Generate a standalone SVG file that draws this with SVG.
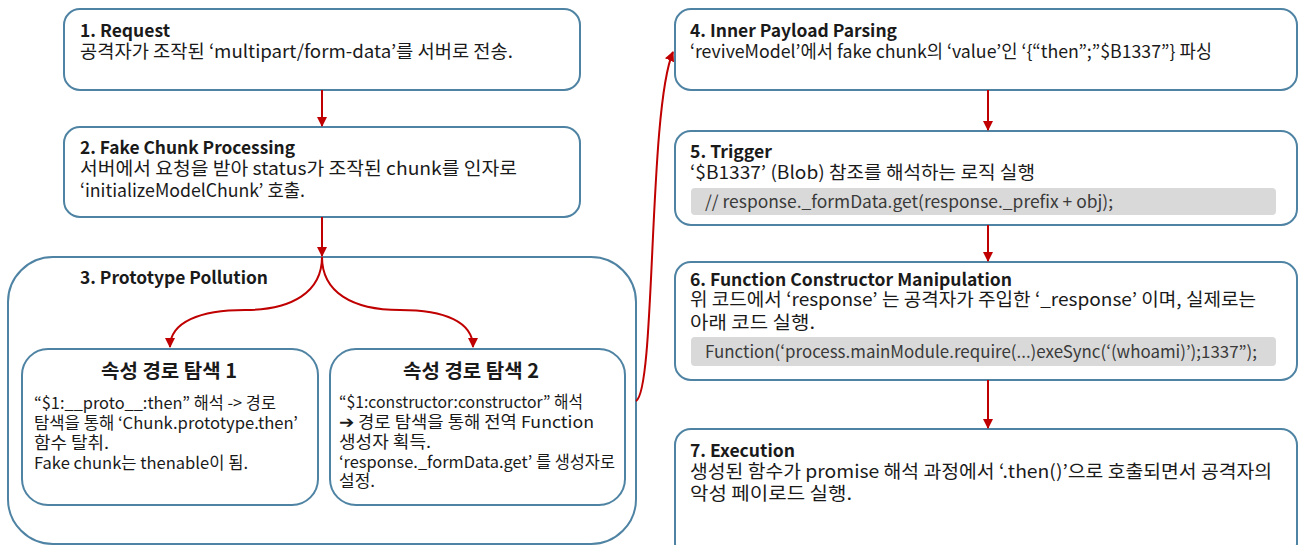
<svg xmlns="http://www.w3.org/2000/svg" width="1304" height="545" viewBox="0 0 1304 545">
<defs>
<marker id="ah" viewBox="0 0 10 10" refX="9" refY="5" markerWidth="5" markerHeight="5" orient="auto" markerUnits="strokeWidth">
<path d="M0,0 L10,5 L0,10 z" fill="#c00000"/>
</marker>
<style>
.box{fill:#fff;stroke:#4f83a3;stroke-width:2}
.code{fill:#d9d9d9;stroke:none}
text{font-family:"Noto Sans CJK KR","Noto Sans",sans-serif;fill:#1a1a1a}
.t{font-size:17.5px;font-weight:bold}
.b{font-size:18px}
.s{font-size:16.5px}
.st{font-size:19.5px;font-weight:bold}
.c{font-size:17px;fill:#3a3a3a}
.con{fill:none;stroke:#c00000;stroke-width:2;marker-end:url(#ah)}
</style>
</defs>
<rect width="1304" height="545" fill="#fff"/>
<g id="n1">
<rect class="box" x="64" y="9" width="516" height="81" rx="16"/>
<text class="t" x="80" y="37" textLength="90" lengthAdjust="spacingAndGlyphs">1. Request</text>
<text class="b" x="80" y="58" textLength="433" lengthAdjust="spacingAndGlyphs">공격자가 조작된 ‘multipart/form-data’를 서버로 전송.</text>
</g>
<g id="n2">
<rect class="box" x="64" y="127" width="516" height="90" rx="16"/>
<text class="t" x="80" y="154" textLength="215" lengthAdjust="spacingAndGlyphs">2. Fake Chunk Processing</text>
<text class="b" x="80" y="175" textLength="437" lengthAdjust="spacingAndGlyphs">서버에서 요청을 받아 status가 조작된 chunk를 인자로</text>
<text class="b" x="80" y="197" textLength="225" lengthAdjust="spacingAndGlyphs">‘initializeModelChunk’ 호출.</text>
</g>
<g id="n3">
<rect class="box" x="8" y="257" width="628" height="287" rx="45"/>
<text class="t" x="80" y="284" textLength="188" lengthAdjust="spacingAndGlyphs">3. Prototype Pollution</text>
</g>
<g id="n3a">
<rect class="box" x="22" y="349" width="296" height="156" rx="26"/>
<text class="st" x="169" y="378" text-anchor="middle" textLength="136" lengthAdjust="spacingAndGlyphs">속성 경로 탐색 1</text>
<text class="s" x="34" y="409" textLength="242" lengthAdjust="spacingAndGlyphs">“$1:__proto__:then” 해석 -&gt; 경로</text>
<text class="s" x="34" y="429" textLength="264" lengthAdjust="spacingAndGlyphs">탐색을 통해 ‘Chunk.prototype.then’</text>
<text class="s" x="34" y="449" textLength="75" lengthAdjust="spacingAndGlyphs">함수 탈취.</text>
<text class="s" x="34" y="469" textLength="214" lengthAdjust="spacingAndGlyphs">Fake chunk는 thenable이 됨.</text>
</g>
<g id="n3b">
<rect class="box" x="330" y="349" width="295" height="156" rx="26"/>
<text class="st" x="471" y="378" text-anchor="middle" textLength="136" lengthAdjust="spacingAndGlyphs">속성 경로 탐색 2</text>
<text class="s" x="339" y="408" textLength="244" lengthAdjust="spacingAndGlyphs">“$1:constructor:constructor” 해석</text>
<text class="s" x="339" y="428" textLength="255" lengthAdjust="spacingAndGlyphs">➔ 경로 탐색을 통해 전역 Function</text>
<text class="s" x="339" y="448" textLength="92" lengthAdjust="spacingAndGlyphs">생성자 획득.</text>
<text class="s" x="339" y="468" textLength="276" lengthAdjust="spacingAndGlyphs">‘response._formData.get’ 를 생성자로</text>
<text class="s" x="339" y="487" textLength="36" lengthAdjust="spacingAndGlyphs">설정.</text>
</g>
<g id="n4">
<rect class="box" x="675" y="9" width="622" height="81" rx="16"/>
<text class="t" x="690" y="37" textLength="207" lengthAdjust="spacingAndGlyphs">4. Inner Payload Parsing</text>
<text class="b" x="690" y="58" textLength="522" lengthAdjust="spacingAndGlyphs">‘reviveModel’에서 fake chunk의 ‘value’인 ‘{“then”;”$B1337”} 파싱</text>
</g>
<g id="n5">
<rect class="box" x="675" y="131" width="622" height="94" rx="16"/>
<text class="t" x="690" y="158" textLength="82" lengthAdjust="spacingAndGlyphs">5. Trigger</text>
<text class="b" x="690" y="179" textLength="345" lengthAdjust="spacingAndGlyphs">‘$B1337’ (Blob) 참조를 해석하는 로직 실행</text>
<rect class="code" x="691" y="188" width="585" height="27" rx="4"/>
<text class="c" x="705" y="208" textLength="408" lengthAdjust="spacingAndGlyphs">// response._formData.get(response._prefix + obj);</text>
</g>
<g id="n6">
<rect class="box" x="675" y="262" width="622" height="118" rx="16"/>
<text class="t" x="690" y="286" textLength="322" lengthAdjust="spacingAndGlyphs">6. Function Constructor Manipulation</text>
<text class="b" x="690" y="306" textLength="566" lengthAdjust="spacingAndGlyphs">위 코드에서 ‘response’ 는 공격자가 주입한 ‘_response’ 이며, 실제로는</text>
<text class="b" x="690" y="329" textLength="125" lengthAdjust="spacingAndGlyphs">아래 코드 실행.</text>
<rect class="code" x="691" y="337" width="585" height="29" rx="4"/>
<text class="c" x="705" y="358" textLength="552" lengthAdjust="spacingAndGlyphs">Function(‘process.mainModule.require(...)exeSync(‘(whoami)’);1337”);</text>
</g>
<g id="n7">
<rect class="box" x="675" y="429" width="622" height="130" rx="16"/>
<text class="t" x="690" y="457" textLength="105" lengthAdjust="spacingAndGlyphs">7. Execution</text>
<text class="b" x="690" y="478" textLength="582" lengthAdjust="spacingAndGlyphs">생성된 함수가 promise 해석 과정에서 ‘.then()’으로 호출되면서 공격자의</text>
<text class="b" x="690" y="500" textLength="162" lengthAdjust="spacingAndGlyphs">악성 페이로드 실행.</text>
</g>
<g id="connectors">
<path class="con" d="M322,90 L322,126"/>
<path class="con" d="M322,217 L322,256"/>
<path class="con" d="M322,257 C322,292 292,310 245,310 C200,310 170,322 170,347"/>
<path class="con" d="M322,257 C322,292 352,310 400,310 C445,310 473,322 473,347"/>
<path class="con" d="M636,401 C656,390 648,110 673,52"/>
<path class="con" d="M988,90 L988,130"/>
<path class="con" d="M988,225 L988,261"/>
<path class="con" d="M988,380 L988,428"/>
</g>
</svg>
